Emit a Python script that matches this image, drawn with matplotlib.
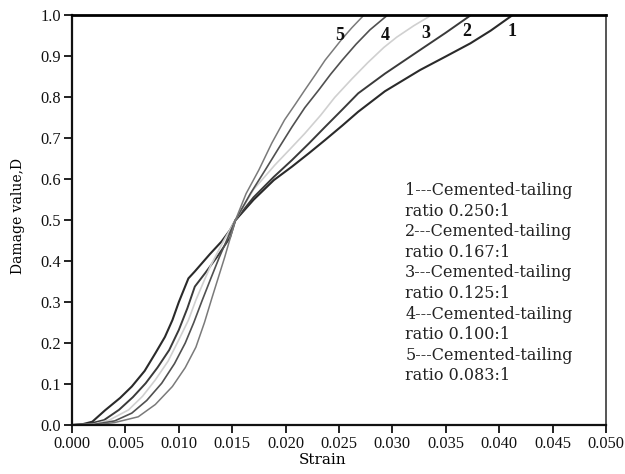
import matplotlib
matplotlib.use("Agg")
import matplotlib.pyplot as plt
import numpy as np

# Data
strain_1 = [0.0, 0.0010, 0.0019, 0.0031, 0.0045, 0.0056, 0.0068, 0.0078, 0.0087, 0.0094, 0.0100, 0.0109,
            0.0115, 0.0122, 0.0129, 0.0140, 0.0148, 0.0153, 0.0170, 0.0189, 0.0206, 0.0222, 0.0237,
            0.0253, 0.0268, 0.0293, 0.0326, 0.0350, 0.0373, 0.0392, 0.0412]
damage_1 = [0.0, 0.002, 0.008, 0.036, 0.066, 0.094, 0.132, 0.175, 0.215, 0.256, 0.300, 0.358,
            0.375, 0.396, 0.417, 0.448, 0.476, 0.500, 0.550, 0.598, 0.631, 0.664, 0.696,
            0.731, 0.765, 0.815, 0.867, 0.900, 0.932, 0.963, 1.0]

strain_2 = [0.0, 0.0015, 0.0030, 0.0044, 0.0057, 0.0069, 0.0080, 0.0091, 0.0100, 0.0108, 0.0115, 0.0125,
            0.0136, 0.0148, 0.0153, 0.0170, 0.0189, 0.0206, 0.0222, 0.0237, 0.0253, 0.0268, 0.0293,
            0.0326, 0.0350, 0.0373]
damage_2 = [0.0, 0.002, 0.012, 0.037, 0.068, 0.102, 0.140, 0.183, 0.232, 0.285, 0.338, 0.372,
            0.411, 0.458, 0.500, 0.556, 0.606, 0.647, 0.688, 0.728, 0.770, 0.810, 0.858,
            0.916, 0.958, 1.0]

strain_3 = [0.0, 0.0020, 0.0035, 0.0053, 0.0066, 0.0078, 0.0090, 0.0100, 0.0109, 0.0116, 0.0123, 0.0130,
            0.0142, 0.0153, 0.0170, 0.0190, 0.0205, 0.0218, 0.0233, 0.0246, 0.0262, 0.0277, 0.0292,
            0.0304, 0.0320, 0.0336]
damage_3 = [0.0, 0.002, 0.012, 0.037, 0.070, 0.110, 0.156, 0.208, 0.256, 0.305, 0.348, 0.390,
            0.450, 0.500, 0.575, 0.635, 0.676, 0.712, 0.757, 0.800, 0.845, 0.885, 0.922,
            0.947, 0.975, 1.0]

strain_4 = [0.0, 0.0020, 0.0040, 0.0056, 0.0070, 0.0084, 0.0096, 0.0106, 0.0114, 0.0122, 0.0130, 0.0138,
            0.0146, 0.0153, 0.0167, 0.0181, 0.0194, 0.0206, 0.0218, 0.0231, 0.0242, 0.0253, 0.0266,
            0.0279, 0.0295]
damage_4 = [0.0, 0.001, 0.010, 0.029, 0.060, 0.102, 0.150, 0.200, 0.250, 0.305, 0.358, 0.410,
            0.458, 0.500, 0.565, 0.623, 0.678, 0.728, 0.775, 0.818, 0.856, 0.891, 0.930,
            0.965, 1.0]

strain_5 = [0.0, 0.0020, 0.0040, 0.0062, 0.0078, 0.0094, 0.0106, 0.0116, 0.0124, 0.0131, 0.0137, 0.0143,
            0.0148, 0.0153, 0.0163, 0.0175, 0.0187, 0.0199, 0.0209, 0.0218, 0.0228, 0.0237, 0.0252,
            0.0262, 0.0273]
damage_5 = [0.0, 0.0, 0.006, 0.020, 0.050, 0.094, 0.140, 0.190, 0.250, 0.310, 0.360, 0.410,
            0.455, 0.500, 0.565, 0.623, 0.688, 0.745, 0.783, 0.818, 0.856, 0.891, 0.940,
            0.970, 1.0]

curve_labels = ["1", "2", "3", "4", "5"]
label_x = [0.0412, 0.0370, 0.0331, 0.0293, 0.0251]
label_y = [0.960, 0.960, 0.955, 0.952, 0.952]
legend_lines = ["1---Cemented-tailing", "ratio 0.250:1",
                "2---Cemented-tailing", "ratio 0.167:1",
                "3---Cemented-tailing", "ratio 0.125:1",
                "4---Cemented-tailing", "ratio 0.100:1",
                "5---Cemented-tailing", "ratio 0.083:1"]
x_ticks = np.arange(0, 0.0501, 0.005)
y_ticks = np.arange(0, 1.01, 0.1)

colors = ["#2a2a2a", "#3a3a3a", "#d0d0d0", "#505050", "#7a7a7a"]
widths = [1.5, 1.4, 1.2, 1.2, 1.1]

plt.rcParams['font.family'] = ['DejaVu Serif', 'DejaVu Sans']

fig = plt.figure(figsize=(6.25, 4.74), dpi=100)
ax = fig.add_axes([0.1152, 0.1034, 0.9696 - 0.1152, 0.9673 - 0.1034])

series = [(strain_1, damage_1), (strain_2, damage_2), (strain_3, damage_3),
          (strain_4, damage_4), (strain_5, damage_5)]
for (sx, sy), c, w in zip(series, colors, widths):
    ax.plot(sx, sy, color=c, lw=w, solid_joinstyle='round', solid_capstyle='round')

for lab, lx, ly in zip(curve_labels, label_x, label_y):
    ax.text(lx, ly, lab, fontsize=13, fontweight='bold', family='Liberation Serif',
            ha='center', va='center', color='#111111')

y0 = 0.572
step = 0.0502
for i, line in enumerate(legend_lines):
    ax.text(0.0312, y0 - i * step, line, fontsize=11.5, ha='left', va='center', color='#222222')

ax.set_xlim(0, 0.05)
ax.set_ylim(0, 1.0)
ax.set_xticks(x_ticks)
ax.set_yticks(y_ticks)
ax.set_xticklabels([f"{v:.3f}" for v in x_ticks], fontsize=11.8, family='Liberation Serif')
ax.set_yticklabels([f"{v:.1f}" for v in y_ticks], fontsize=11.8, family='Liberation Serif')
ax.tick_params(direction='out', length=6, width=1.3, colors='#111111')
ax.tick_params(axis='y', pad=2)
ax.tick_params(axis='x', pad=2)

for s in ['left', 'bottom']:
    ax.spines[s].set_linewidth(1.6)
    ax.spines[s].set_color('#111111')
ax.spines['top'].set_linewidth(2.0)
ax.spines['top'].set_color('#000000')
ax.spines['right'].set_linewidth(1.4)
ax.spines['right'].set_color('#555555')

ax.set_xlabel("Strain", fontsize=11)
ax.xaxis.set_label_coords(0.47, -0.068)
ax.set_ylabel("Damage value,D", fontsize=10)
ax.yaxis.set_label_coords(-0.088, 0.51)

fig.savefig("out.png", dpi=100)
